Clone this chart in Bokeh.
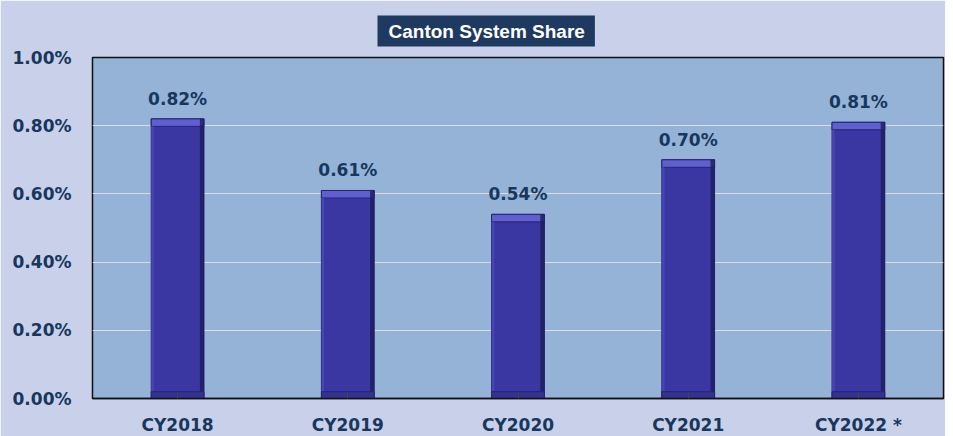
from bokeh.plotting import figure
from bokeh.models import ColumnDataSource, FactorRange, PrintfTickFormatter, LabelSet, Range1d
from bokeh.transform import dodge
from bokeh.core.properties import value
from bokeh.embed import file_html
from bokeh.resources import INLINE

title_text = "Canton System Share"
categories = ["CY2018", "CY2019", "CY2020", "CY2021", "CY2022 *"]
shares = [0.82, 0.61, 0.54, 0.70, 0.81]
labels = ["0.82%", "0.61%", "0.54%", "0.70%", "0.81%"]

TXT = "#17375e"
BG = "#c8d1e9"
PLOT_BG = "#95b3d7"
FONT = "DejaVu Sans"

src = ColumnDataSource(dict(
    cat=categories, val=shares, lab=labels,
    band_bottom=[v - 0.022 for v in shares],
    base_top=[0.02 for v in shares],
))

p = figure(x_range=FactorRange(*categories), y_range=Range1d(0, 1.0),
           frame_width=851, frame_height=341,
           output_backend="svg", toolbar_location=None)
p.min_border_left = 92
p.min_border_right = 2
p.min_border_top = 57
p.min_border_bottom = 30
p.border_fill_color = BG
p.background_fill_color = PLOT_BG
p.outline_line_color = "#111111"
p.outline_line_width = 1.5

# title box
p.title.text = title_text
p.title.text_color = "white"
p.title.text_font = "Liberation Sans"
p.title.text_font_style = "bold"
p.title.text_font_size = "19px"
p.title.align = "left"
p.title.background_fill_color = "#1f3a60"
p.title.padding = (11, 10, 5, 5)
p.title.offset = 285
p.title.standoff = 22

W = 0.31
p.vbar(x="cat", top="val", bottom=0, width=W, source=src,
       fill_color="#3a37a2", line_color="#26256e", line_width=1)
p.vbar(x="cat", top="val", bottom="band_bottom", width=W, source=src,
       fill_color="#5f5fd2", line_color="#26256e", line_width=1)
p.vbar(x=dodge("cat", W / 2 - 0.012, range=p.x_range), top="val", bottom=0,
       width=0.024, source=src, fill_color="#1d1c5c", fill_alpha=0.8, line_color=None)
p.vbar(x=dodge("cat", -W / 2 + 0.008, range=p.x_range), top="band_bottom", bottom=0,
       width=0.016, source=src, fill_color="#4a48b8", fill_alpha=0.8, line_color=None)
p.vbar(x="cat", top="base_top", bottom=0, width=W, source=src,
       fill_color="#34328f", line_color="#26256e", line_width=1)

lbl = LabelSet(x="cat", y="val", text="lab", source=src, text_align="center",
               text_baseline="bottom", y_offset=10, text_color=TXT,
               text_font=value(FONT), text_font_style="bold", text_font_size="17px")
p.add_layout(lbl)

p.xgrid.grid_line_color = None
p.ygrid.grid_line_color = "#dcdcdc"
p.ygrid.grid_line_width = 1
p.ygrid.ticker = [0.2, 0.4, 0.6, 0.8]

p.yaxis.ticker = [0, 0.2, 0.4, 0.6, 0.8, 1.0]
p.yaxis.formatter = PrintfTickFormatter(format="%.2f%%")
p.yaxis.axis_line_color = None
p.yaxis.major_tick_line_color = None
p.yaxis.minor_tick_line_color = None
p.yaxis.major_label_standoff = 15
p.yaxis.major_label_text_font = FONT
p.yaxis.major_label_text_font_style = "bold"
p.yaxis.major_label_text_font_size = "17px"
p.yaxis.major_label_text_color = TXT

p.xaxis.axis_line_color = "#111111"
p.xaxis.axis_line_width = 1.5
p.xaxis.major_tick_in = 6
p.xaxis.major_tick_out = 0
p.xaxis.major_tick_line_color = "#444444"
p.xaxis.major_label_standoff = 16
p.xaxis.major_label_text_font = FONT
p.xaxis.major_label_text_font_style = "bold"
p.xaxis.major_label_text_font_size = "17px"
p.xaxis.major_label_text_color = TXT

open("out.html", "w").write(file_html(p, INLINE))
